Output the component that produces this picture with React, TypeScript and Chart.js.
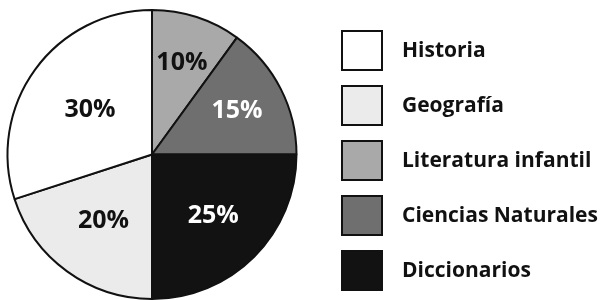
import React, { useEffect, useRef } from "react";
import { Chart, registerables } from "chart.js";

Chart.register(...registerables);

// Slices in clockwise order from 12 o'clock
const sliceLabels = ["Literatura infantil", "Ciencias Naturales", "Diccionarios", "Geografía", "Historia"];
const sliceValues = [10, 15, 25, 20, 30];
const sliceColors = ["#a9a9a9", "#6f6f6f", "#121212", "#ebebeb", "#ffffff"];
const labelTextColors = ["#111111", "#ffffff", "#ffffff", "#111111", "#111111"];
const labelRadiusFrac = [0.67, 0.66, 0.6, 0.57, 0.53];

// Legend order
const legendOrder = ["Historia", "Geografía", "Literatura infantil", "Ciencias Naturales", "Diccionarios"];

const FONT = "'Open Sans', 'Noto Sans', sans-serif";

const overlayPlugin = {
  id: "overlay",
  afterDraw(chart: any) {
    const ctx = chart.ctx;
    const meta = chart.getDatasetMeta(0);
    const total = sliceValues.reduce((a, b) => a + b, 0);
    ctx.save();
    // slice labels
    ctx.font = `bold 25px ${FONT}`;
    ctx.textAlign = "center";
    ctx.textBaseline = "middle";
    meta.data.forEach((arc: any, i: number) => {
      const p = arc.getProps(["x", "y", "startAngle", "endAngle", "outerRadius"], true);
      const mid = (p.startAngle + p.endAngle) / 2;
      const r = p.outerRadius * labelRadiusFrac[i];
      ctx.fillStyle = labelTextColors[i];
      const pct = Math.round((sliceValues[i] / total) * 100);
      ctx.fillText(pct + "%", p.x + Math.cos(mid) * r, p.y + Math.sin(mid) * r);
    });
    // legend
    const area = chart.chartArea;
    const boxX = area.right + 44;
    const boxW = 40;
    const boxH = 39;
    const top = 31;
    const step = 55;
    ctx.textAlign = "left";
    ctx.font = `bold 21px ${FONT}`;
    legendOrder.forEach((name, j) => {
      const i = sliceLabels.indexOf(name);
      const y = top + j * step;
      ctx.fillStyle = sliceColors[i];
      ctx.fillRect(boxX, y, boxW, boxH);
      ctx.lineWidth = 2;
      ctx.strokeStyle = "#111111";
      ctx.strokeRect(boxX, y, boxW, boxH);
      ctx.fillStyle = "#111111";
      ctx.fillText(name, boxX + boxW + 20, y + boxH / 2 + 1);
    });
    ctx.restore();
  },
};

export default function App() {
  const ref = useRef<HTMLCanvasElement>(null);
  useEffect(() => {
    if (!ref.current) return;
    const chart = new Chart(ref.current, {
      type: "pie",
      data: {
        labels: sliceLabels,
        datasets: [
          {
            data: sliceValues,
            backgroundColor: sliceColors,
            borderColor: "#111111",
            borderWidth: 2,
          },
        ],
      },
      options: {
        animation: false,
        responsive: false,
        layout: { padding: { left: 6, top: 9, right: 307, bottom: 0 } },
        plugins: {
          legend: { display: false },
          tooltip: { enabled: false },
        },
      },
      plugins: [overlayPlugin],
    });
    return () => chart.destroy();
  }, []);
  return (
    <div style={{ position: "fixed", left: 0, top: 0, width: 605, height: 300, background: "#fff" }}>
      <canvas ref={ref} width={605} height={300} style={{ width: 605, height: 300 }} />
    </div>
  );
}
